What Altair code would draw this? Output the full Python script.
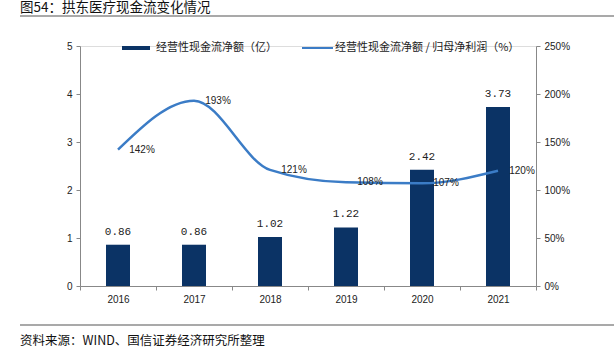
import altair as alt
import pandas as pd

years = ["2016", "2017", "2018", "2019", "2020", "2021"]
cash_flow = [0.86, 0.86, 1.02, 1.22, 2.42, 3.73]
ratio = [1.42, 1.93, 1.21, 1.08, 1.07, 1.20]
ratio_labels = ["142%", "193%", "121%", "108%", "107%", "120%"]

title_text = "图54：拱东医疗现金流变化情况"
source_text = "资料来源：WIND、国信证券经济研究所整理"
legend_bar = "经营性现金流净额（亿）"
legend_line = "经营性现金流净额 / 归母净利润（%）"

NAVY = "#0b3365"
BLUE = "#3b7cc6"
AXIS = "#888888"
CJK = "Noto Sans CJK SC"
LAT = "Liberation Sans"

df = pd.DataFrame({"year": years, "cf": cash_flow, "ratio": ratio, "rlab": ratio_labels})
df["cflab"] = [f"{v:.2f}" for v in cash_flow]

x = alt.X("year:N", title=None, sort=years,
          scale=alt.Scale(paddingInner=0, paddingOuter=0),
          axis=alt.Axis(labelAngle=0, tickBand="extent", domainColor=AXIS, tickColor=AXIS,
                        labelFont=LAT, labelFontSize=10, labelColor="#222222", tickSize=4,
                        labelPadding=4))

y_left = alt.Y("cf:Q", title=None, scale=alt.Scale(domain=[0, 5]),
               axis=alt.Axis(values=[0, 1, 2, 3, 4, 5], grid=False, domainColor=AXIS, tickColor=AXIS,
                             labelFont=LAT, labelFontSize=10, labelColor="#222222", tickSize=4,
                             labelPadding=4))
y_right = alt.Y("ratio:Q", title=None, scale=alt.Scale(domain=[0, 2.5]),
                axis=alt.Axis(orient="right", format=".0%", values=[0, 0.5, 1, 1.5, 2, 2.5], grid=False,
                              domainColor=AXIS, tickColor=AXIS, labelFont=LAT, labelFontSize=10,
                              labelColor="#222222", tickSize=4, labelPadding=4))

base = alt.Chart(df)

bars = base.mark_bar(size=24, color=NAVY).encode(x=x, y=y_left)
bar_text = base.mark_text(dy=-13, font="Liberation Mono", fontSize=11, color="#222222").encode(
    x=x, y=y_left, text="cflab:N")
left = alt.layer(bars, bar_text)

line = base.mark_line(interpolate="monotone", color=BLUE, strokeWidth=2.5).encode(x=x, y=y_right)
line_text = base.mark_text(dx=24, font=LAT, fontSize=10, color="#222222").encode(
    x=x, y=y_right, text="rlab:N")
right = alt.layer(line, line_text)

# decorations: title, rules, legend, source
deco_df = pd.DataFrame({"k": [0]})
d = alt.Chart(deco_df)
title = d.mark_text(align="left", baseline="top", font=CJK, fontSize=13.5, color="#111111").encode(
    x=alt.value(-60), y=alt.value(-45), text=alt.value(title_text))
rule_top = d.mark_rule(color="#8c8c8c", strokeWidth=1.5).encode(
    x=alt.value(-60), x2=alt.value(534), y=alt.value(-30))
rule_bot = d.mark_rule(color="#8c8c8c", strokeWidth=1.5).encode(
    x=alt.value(-60), x2=alt.value(534), y=alt.value(279))
source = d.mark_text(align="left", baseline="middle", font=CJK, fontSize=12.5, color="#111111").encode(
    x=alt.value(-60), y=alt.value(295), text=alt.value(source_text))
leg1_sw = d.mark_rule(color=NAVY, strokeWidth=4).encode(
    x=alt.value(42), x2=alt.value(70), y=alt.value(2))
leg1_tx = d.mark_text(align="left", baseline="middle", font=CJK, fontSize=11, color="#222222").encode(
    x=alt.value(76), y=alt.value(2), text=alt.value(legend_bar))
leg2_sw = d.mark_rule(color=BLUE, strokeWidth=2).encode(
    x=alt.value(222), x2=alt.value(253), y=alt.value(2))
leg2_tx = d.mark_text(align="left", baseline="middle", font=CJK, fontSize=11, color="#222222").encode(
    x=alt.value(255), y=alt.value(2), text=alt.value(legend_line))

main = alt.layer(left, right).resolve_scale(y="independent")

chart = alt.layer(main, title, rule_top, rule_bot, source, leg1_sw, leg1_tx, leg2_sw, leg2_tx).properties(
    width=456, height=240,
    autosize=alt.AutoSizeParams(type="none"),
    padding={"left": 80, "top": 46, "right": 79, "bottom": 66},
).configure_view(stroke=None).configure(background="white")

chart.save("out.html", embed_options={"renderer": "svg", "actions": False})
